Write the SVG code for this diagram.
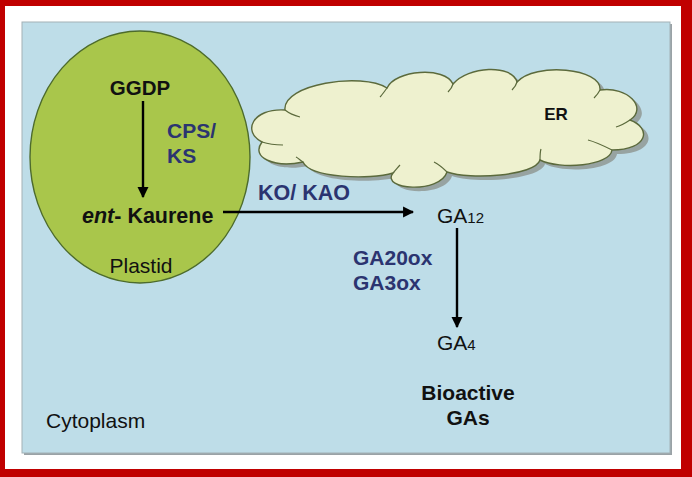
<svg xmlns="http://www.w3.org/2000/svg" width="692" height="477" viewBox="0 0 692 477">
<defs>
<style>
text{font-family:"Liberation Sans",Arial,sans-serif;fill:#111}
.b{font-weight:bold}
.enz{font-weight:bold;fill:#2b3470}
.arr{stroke:#000;stroke-width:2.4;fill:none}
</style>
<marker id="ah" viewBox="0 0 10 10" refX="9" refY="5" markerWidth="4.6" markerHeight="4.6" orient="auto" markerUnits="strokeWidth">
<path d="M0,0 L10,5 L0,10 z" fill="#000"/>
</marker>
<path id="cloud" d="M262,142 C242,132 252,108 285,110 C282,84 362,72 387,88 C395,70 445,66 453,84 C468,66 512,64 517,82 C535,62 602,68 600,90 C628,86 648,108 630,120 C652,128 648,150 612,150 C610,166 560,170 540,160 C535,176 470,180 447,172 C440,194 380,190 393,173 C370,180 310,178 303,162 C275,168 250,158 262,142 Z"/>
</defs>
<rect x="0" y="0" width="692" height="477" fill="#c00000"/>
<rect x="5" y="6" width="676" height="463" fill="#ffffff"/>
<rect x="24" y="24" width="648" height="431" fill="#9aa2a6"/>
<rect x="22" y="22" width="648" height="431" fill="#bedde8" stroke="#a3b1b6" stroke-width="1"/>
<g id="er">
<use href="#cloud" transform="translate(5,4)" fill="#8a8f8a" opacity="0.75"/>
<use href="#cloud" fill="#eef1cf" stroke="#5b6a3c" stroke-width="1.4"/>
<path d="M285,110 C290,114 296,116 300,117 M387,88 C384,92 382,95 380,97 M453,84 C452,88 450,90 448,92 M517,82 C516,86 514,88 512,90 M600,90 C598,94 596,96 594,98 M630,120 C624,124 620,126 616,127 M612,150 C604,146 596,142 588,140 M540,160 C540,156 540,152 541,149 M447,172 C443,168 438,164 434,162 M393,173 C396,170 398,167 400,165 M303,162 C300,160 298,158 296,157 M262,142 C268,144 276,145 283,145" fill="none" stroke="#5b6a3c" stroke-width="1.2"/>
<text x="556" y="120" class="b" font-size="17" text-anchor="middle">ER</text>
</g>
<g id="plastid">
<ellipse cx="140" cy="157" rx="110" ry="126" fill="#a9c64b" stroke="#4d6b2c" stroke-width="1.4"/>
<text x="141" y="273" font-size="21" text-anchor="middle">Plastid</text>
</g>
<g id="connectors">
<line x1="143" y1="101" x2="143" y2="197" class="arr" marker-end="url(#ah)"/>
<line x1="223" y1="212" x2="413" y2="212" class="arr" marker-end="url(#ah)"/>
<line x1="457" y1="228" x2="457" y2="327" class="arr" marker-end="url(#ah)"/>
</g>
<g id="ggdp"><text x="140" y="95" class="b" font-size="20.5" text-anchor="middle">GGDP</text></g>
<g id="cps"><text class="enz" font-size="21"><tspan x="167" y="138">CPS/</tspan><tspan x="167" y="163">KS</tspan></text></g>
<g id="kaurene"><text x="82" y="223" class="b" font-size="21.5"><tspan font-style="italic">ent</tspan>- Kaurene</text></g>
<g id="ko"><text x="258" y="200" class="enz" font-size="21.5">KO/ KAO</text></g>
<g id="ga12"><text x="437" y="223" font-size="21">GA<tspan font-size="15">12</tspan></text></g>
<g id="ga20ox"><text class="enz" font-size="21"><tspan x="353" y="265">GA20ox</tspan><tspan x="353" y="290">GA3ox</tspan></text></g>
<g id="ga4"><text x="437" y="350" font-size="21">GA<tspan font-size="15">4</tspan></text></g>
<g id="bioactive"><text class="b" font-size="21" text-anchor="middle"><tspan x="468" y="400">Bioactive</tspan><tspan x="468" y="425">GAs</tspan></text></g>
<g id="cytoplasm"><text x="46" y="428" font-size="21">Cytoplasm</text></g>
</svg>
